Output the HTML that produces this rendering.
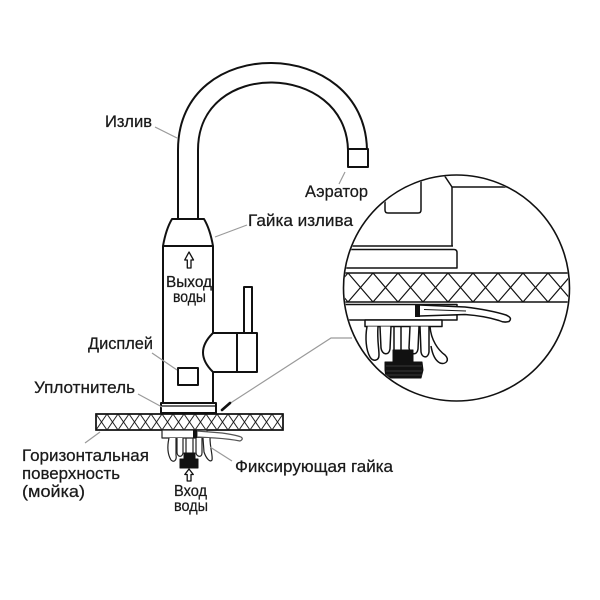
<!DOCTYPE html>
<html>
<head>
<meta charset="utf-8">
<style>
html,body{margin:0;padding:0;background:#fff;}
svg{display:block;}
text{font-family:"Liberation Sans","DejaVu Sans",sans-serif;fill:#1a1a1a;stroke:#1a1a1a;stroke-width:0.25;}
</style>
</head>
<body>
<svg width="600" height="600" viewBox="0 0 600 600" xmlns="http://www.w3.org/2000/svg">
<defs>
  <clipPath id="cc"><circle cx="456.5" cy="288" r="112"/></clipPath>
  <clipPath id="ct"><rect x="96" y="414" width="187" height="16"/></clipPath>
</defs>
<rect width="600" height="600" fill="#fff"/>

<!-- ===== Main faucet ===== -->
<g fill="none" stroke="#111" stroke-width="2" stroke-linejoin="round">
  <!-- spout -->
  <path d="M178,219 L178,150 C178,32 365,36 367,150"/>
  <path d="M198,219 L198,150 C198,58 346,62 348,150"/>
  <rect x="348" y="149" width="20" height="18"/>
  <!-- nut -->
  <path d="M172,219 L204,219 Q210,229 213,246 L163,246 Q166,229 172,219 Z" fill="#fff"/>
  <!-- body -->
  <path d="M163,246 L163,403 L213,403 L213,372"/>
  <path d="M213,246 L213,333"/>
  <path d="M213,333 Q193,352.5 213,372"/>
  <!-- handle -->
  <path d="M213,333 L257,333 L257,372 L213,372"/>
  <path d="M237,333 L237,372"/>
  <rect x="244" y="287" width="8" height="46" fill="#fff"/>
  <!-- display -->
  <rect x="178" y="368" width="20" height="17"/>
  <!-- gasket -->
  <rect x="161" y="403" width="55" height="10" fill="#fff"/>
  <path d="M161,406 L216,406" stroke-width="1.2"/>
</g>

<!-- up arrow in body -->
<path d="M189,252 L193.5,260 L191,260 L191,268 L187.3,268 L187.3,260 L184.7,260 Z" fill="#fff" stroke="#111" stroke-width="1.3" stroke-linejoin="round"/>

<!-- countertop main -->
<g>
  <rect x="96" y="414" width="187" height="16" fill="#fff" stroke="#111" stroke-width="1.5"/>
  <g clip-path="url(#ct)" stroke="#222" stroke-width="1">
    <path d="M96,414 L107,430 M107,414 L118,430 M118,414 L129,430 M129,414 L140,430 M140,414 L151,430 M151,414 L162,430 M162,414 L173,430 M173,414 L184,430 M184,414 L195,430 M195,414 L206,430 M206,414 L217,430 M217,414 L228,430 M228,414 L239,430 M239,414 L250,430 M250,414 L261,430 M261,414 L272,430 M272,414 L283,430"/>
    <path d="M107,414 L96,430 M118,414 L107,430 M129,414 L118,430 M140,414 L129,430 M151,414 L140,430 M162,414 L151,430 M173,414 L162,430 M184,414 L173,430 M195,414 L184,430 M206,414 L195,430 M217,414 L206,430 M228,414 L217,430 M239,414 L228,430 M250,414 L239,430 M261,414 L250,430 M272,414 L261,430 M283,414 L272,430"/>
  </g>
  <rect x="96" y="414" width="187" height="16" fill="none" stroke="#111" stroke-width="1.5"/>
</g>

<!-- under countertop (main) -->
<g stroke="#222" stroke-width="1.2" fill="#fff" stroke-linejoin="round">
  <rect x="162" y="430" width="45" height="8"/>
  <path d="M197,431 L222,433 Q236,435 241,437 Q244,439 240,441 Q230,439 215,438 L197,437 Z" stroke="#555"/>
  <rect x="193" y="430" width="4" height="8" fill="#111" stroke="none"/>
  <!-- fins -->
  <path d="M169,438 C167,447 168,455 171,460 C174,463 177,460 176,455 L176,438"/>
  <path d="M177,438 L177,452 C177,457 182,458 183,453 L183,438"/>
  <path d="M186,438 L186,454"/>
  <path d="M193,438 L193,454"/>
  <path d="M196,438 L196,452 C196,457 202,458 202,453 L202,438"/>
  <path d="M203,438 L204,452 C206,458 210,463 212,460 C213,456 210,448 210,438"/>
  <!-- thread -->
  <path d="M184,453 L195,453 L195,459 L198,459 L198,468 L180,468 L180,459 L184,459 Z" fill="#111" stroke="#111" stroke-width="1"/>
</g>
<!-- inlet arrow -->
<path d="M189,469 L193.3,474.5 L191,474.5 L191,481 L187.2,481 L187.2,474.5 L184.8,474.5 Z" fill="#fff" stroke="#111" stroke-width="1.3" stroke-linejoin="round"/>

<!-- ===== Leader lines ===== -->
<g stroke="#9a9a9a" stroke-width="1.2" fill="none">
  <path d="M155,127 L177,138"/>
  <path d="M345,172 L339,184"/>
  <path d="M247,225 L215,237"/>
  <path d="M152,353 L177,370"/>
  <path d="M138,394 L162,407"/>
  <path d="M85,443 L100,432"/>
  <path d="M232,461 L210,447"/>
  <path d="M352,338 L331,338 L229,404"/>
</g>
<path d="M222,410 L230,403" stroke="#111" stroke-width="2.6" stroke-linecap="round"/>

<!-- ===== Inset circle ===== -->
<g clip-path="url(#cc)" fill="none" stroke="#111" stroke-width="1.5" stroke-linejoin="round">
  <!-- body above -->
  <path d="M442,172 L452,187 L530,187"/>
  <path d="M452,187 L452,246"/>
  <path d="M385,165 L385,210 Q385,213 388,213 L418,213 Q421,213 421,210 L421,165"/>
  <!-- gasket -->
  <path d="M330,246 L453,246"/>
  <path d="M330,249.5 L454,249.5 Q457,249.5 457,252.5 L457,268 L330,268"/>
  <!-- band -->
  <path d="M330,273 L590,273 M330,302 L590,302"/>
  <g stroke-width="1.2">
    <path d="M323,273 L348,302 M348,273 L373,302 M373,273 L398,302 M398,273 L423,302 M423,273 L448,302 M448,273 L473,302 M473,273 L498,302 M498,273 L523,302 M523,273 L548,302 M548,273 L573,302 M573,273 L598,302"/>
    <path d="M348,273 L323,302 M373,273 L348,302 M398,273 L373,302 M423,273 L398,302 M448,273 L423,302 M473,273 L448,302 M498,273 L473,302 M523,273 L498,302 M548,273 L523,302 M573,273 L548,302 M598,273 L573,302"/>
  </g>
  <!-- plate -->
  <path d="M330,304.5 L457,304.5 L457,320 L330,320" fill="#fff"/>
  <path d="M420,315 L457,315" stroke-width="1.2"/>
  <!-- lever -->
  <path d="M420,305 L465,307 Q490,310 506,315 Q513,318 509,321.5 Q504,323 499,320.5 Q485,316 465,314.5 L420,316" fill="#fff"/>
  <path d="M424,309.5 L466,311" stroke-width="1"/>
  <rect x="415" y="304" width="5" height="13" fill="#111" stroke="none"/>
  <!-- narrow plate -->
  <rect x="365" y="320" width="77" height="6.5" fill="#fff"/>
  <!-- fins -->
  <g fill="#fff">
    <path d="M367,326.5 C365,338 366,350 370,357 C373,362 379,361 379,355 C379,348 377,340 378,326.5"/>
    <path d="M380,326.5 L381,348 C382,355 389,356 390,349 L391,326.5"/>
    <path d="M394,326.5 L394,350"/>
    <path d="M401,326.5 L401,350"/>
    <path d="M410,326.5 L409,348 C410,355 417,356 418,349 L419,326.5"/>
    <path d="M420,326.5 L421,352 C422,358 428,359 429,352 L429,326.5"/>
    <path d="M430,326.5 C431,340 438,350 445,355 C450,360 446,365 440,363 C434,360 432,352 431,346"/>
  </g>
  <!-- thread -->
  <path d="M393,350 L413,350 L413,362 L422,362 L423,370 L421,378 L386,378 L385,370 L385,362 L393,362 Z" fill="#111" stroke="#111" stroke-width="1"/>
  <path d="M386,366 L422,366 M386,371 L422,371 M386,375 L422,375" stroke="#444" stroke-width="0.8"/>
</g>
<circle cx="456.5" cy="288" r="113" fill="none" stroke="#111" stroke-width="1.6"/>

<!-- ===== Labels ===== -->
<g font-size="17">
  <text x="105" y="127" textLength="47" lengthAdjust="spacingAndGlyphs">Излив</text>
  <text x="305" y="197" textLength="63" lengthAdjust="spacingAndGlyphs">Аэратор</text>
  <text x="248" y="226" textLength="105" lengthAdjust="spacingAndGlyphs">Гайка излива</text>
  <text x="88" y="349" textLength="65" lengthAdjust="spacingAndGlyphs">Дисплей</text>
  <text x="34" y="393" textLength="101" lengthAdjust="spacingAndGlyphs">Уплотнитель</text>
  <text x="22" y="461" textLength="127" lengthAdjust="spacingAndGlyphs">Горизонтальная</text>
  <text x="22" y="479" textLength="98" lengthAdjust="spacingAndGlyphs">поверхность</text>
  <text x="22" y="497" textLength="63" lengthAdjust="spacingAndGlyphs">(мойка)</text>
  <text x="235" y="472" textLength="158" lengthAdjust="spacingAndGlyphs">Фиксирующая гайка</text>
</g>
<g font-size="16">
  <text x="166" y="287" textLength="46" lengthAdjust="spacingAndGlyphs">Выход</text>
  <text x="173" y="302" textLength="33" lengthAdjust="spacingAndGlyphs">воды</text>
  <text x="174" y="496" textLength="33" lengthAdjust="spacingAndGlyphs">Вход</text>
  <text x="174" y="511" textLength="34" lengthAdjust="spacingAndGlyphs">воды</text>
</g>
</svg>
</body>
</html>
